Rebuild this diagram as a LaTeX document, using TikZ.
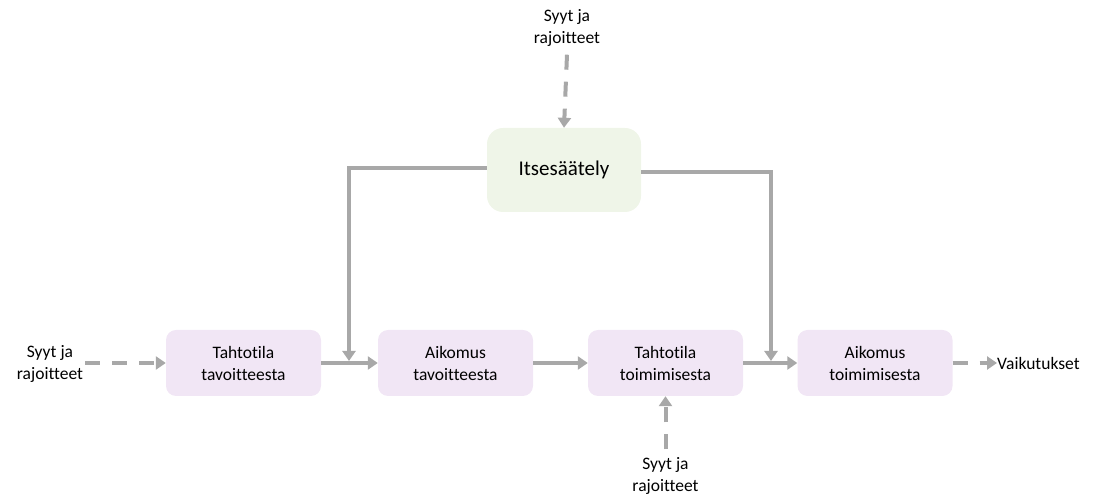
\documentclass[tikz,border=0pt]{standalone}
\usepackage{fontspec}
\setmainfont[Ligatures={NoCommon,NoRequired}]{Carlito}
\usetikzlibrary{arrows.meta}
\definecolor{linegray}{RGB}{168,168,168}
\definecolor{boxpurple}{RGB}{241,230,245}
\definecolor{boxgreen}{RGB}{239,245,232}
\begin{document}
\begin{tikzpicture}[x=1pt,y=1pt,
  stagebox/.style={fill=boxpurple, rounded corners=10pt, minimum width=155pt,
    minimum height=66pt, inner sep=0pt, align=center,
    font=\fontsize{17.5}{22}\selectfont},
  regbox/.style={fill=boxgreen, rounded corners=16pt, minimum width=154pt,
    minimum height=84pt, inner sep=0pt, font=\fontsize{21}{25}\selectfont},
  label/.style={align=center, inner sep=0pt, font=\fontsize{17.5}{22}\selectfont},
  tip/.style={-{Triangle[length=10pt,width=13pt]}},
  flow/.style={draw=linegray, line width=4pt, tip},
  cause/.style={flow, dash pattern=on 15pt off 12pt}
]
\useasboundingbox (0,0) rectangle (1109,500);

% main chain of stages
\node[stagebox] (b1) at (243.5,137) {Tahtotila\\tavoitteesta};
\node[stagebox] (b2) at (455.5,137) {Aikomus\\tavoitteesta};
\node[stagebox] (b3) at (665.5,137) {Tahtotila\\toimimisesta};
\node[stagebox] (b4) at (875,137) {Aikomus\\toimimisesta};

% self-regulation
\node[regbox] (reg) at (564,330) {Itsesäätely};

% causes and constraints, and outcome
\node[label] (cleft) at (50,136) {Syyt ja\\rajoitteet};
\node[label] (ctop) at (567,472) {Syyt ja\\rajoitteet};
\node[label] (cbot) at (665.5,24) {Syyt ja\\rajoitteet};
\node[label, anchor=west] (out) at (997,137) {Vaikutukset};

% solid flow between stages
\draw[flow] (b1.east) -- (b2.west);
\draw[flow] (b2.east) -- (b3.west);
\draw[flow] (b3.east) -- (b4.west);

% feedback from self-regulation
\coordinate (fbl) at (349,139);
\coordinate (fbr) at (771,139);
\draw[flow] (reg.west |- 0,332) -| (fbl);
\draw[flow] (reg.east |- 0,328) -| (fbr);

% dashed influences
\draw[cause] (85,137) -- (b1.west);
\draw[cause] (ctop.south) ++(0,-8) -- (reg.north);
\draw[cause] (cbot.north) ++(0,8) -- (b3.south);
\draw[cause] (b4.east) -- (out.west);
\end{tikzpicture}
\end{document}
